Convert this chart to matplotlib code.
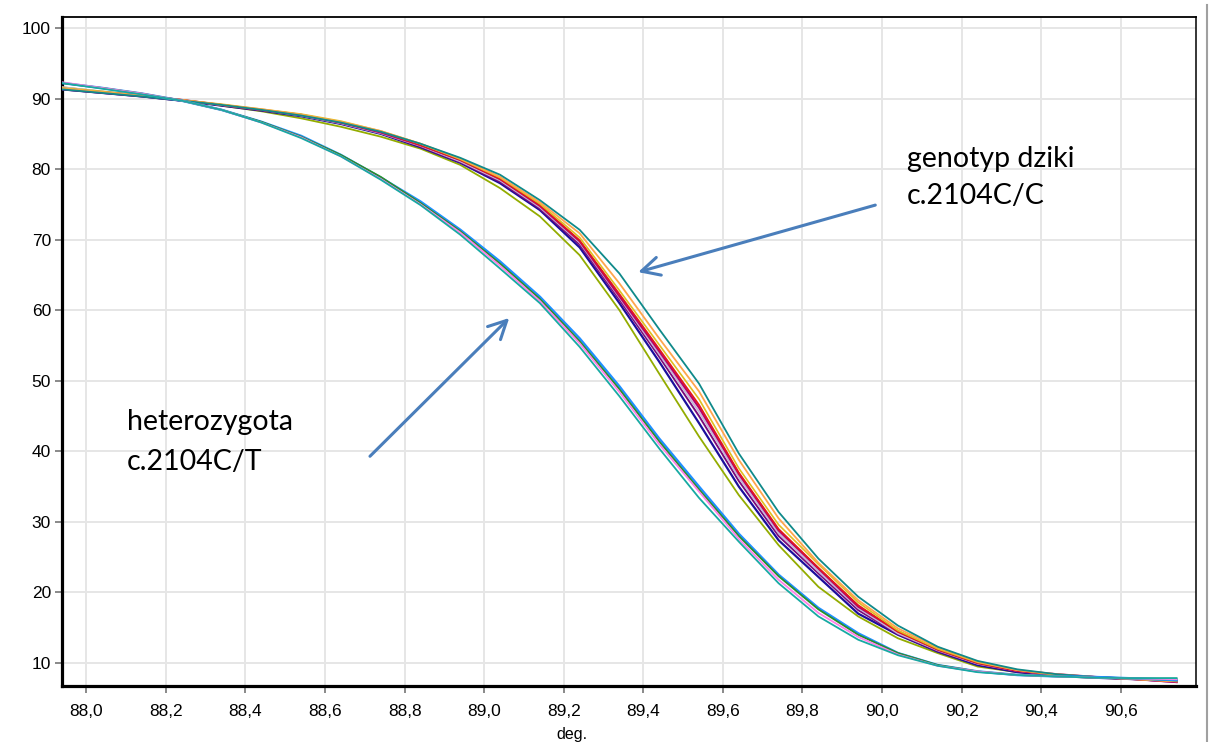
import matplotlib
matplotlib.use('Agg')
import matplotlib.pyplot as plt
from matplotlib.lines import Line2D

# melting temperature grid (deg.) shared by every curve
TEMP = [87.94, 88.04, 88.14, 88.24, 88.34, 88.44, 88.54, 88.64, 88.74, 88.84,
        88.94, 89.04, 89.14, 89.24, 89.34, 89.44, 89.54, 89.64, 89.74, 89.84,
        89.94, 90.04, 90.14, 90.24, 90.34, 90.44, 90.54, 90.64, 90.74]

# wild type c.2104C/C
WT_TEAL = [91.3, 90.8, 90.3, 89.7, 89.1, 88.4, 87.6, 86.6, 85.3, 83.6, 81.6, 79.2, 75.6, 71.4, 65.2,
           57.3, 49.6, 39.7, 31.4, 24.8, 19.4, 15.3, 12.3, 10.3, 9.1, 8.4, 8.0, 7.8, 7.5]
WT_ORANGE = [91.4, 90.9, 90.4, 89.8, 89.1, 88.5, 87.7, 86.7, 85.4, 83.6, 81.5, 78.9, 75.3, 70.9, 63.8,
             56.0, 48.5, 38.8, 30.5, 24.2, 18.9, 14.9, 12.2, 10.2, 9.0, 8.4, 8.0, 7.7, 7.4]
WT_GOLD = [91.5, 91.0, 90.4, 89.8, 89.2, 88.5, 87.8, 86.8, 85.4, 83.6, 81.4, 78.8, 75.1, 70.3, 62.8,
           55.1, 47.4, 37.6, 29.6, 24.0, 18.6, 14.6, 12.0, 10.1, 9.0, 8.3, 8.0, 7.7, 7.4]
WT_RED = [91.4, 90.9, 90.4, 89.8, 89.1, 88.4, 87.7, 86.6, 85.3, 83.4, 81.3, 78.6, 74.9, 69.9, 62.3,
          54.5, 46.6, 37.0, 29.0, 23.5, 18.2, 14.4, 11.9, 10.0, 8.9, 8.3, 8.0, 7.7, 7.4]
WT_MAGENTA = [91.4, 90.9, 90.4, 89.8, 89.1, 88.4, 87.7, 86.6, 85.2, 83.4, 81.3, 78.6, 74.8, 69.8, 62.0,
              54.2, 46.2, 36.8, 28.8, 23.4, 18.0, 14.5, 11.9, 10.0, 8.9, 8.4, 8.0, 7.7, 7.3]
WT_LAVENDER = [91.6, 91.0, 90.4, 89.8, 89.1, 88.4, 87.6, 86.5, 85.1, 83.3, 81.1, 78.4, 74.6, 69.6, 61.8,
               53.8, 45.6, 36.3, 28.4, 23.0, 17.8, 14.2, 11.8, 9.9, 8.9, 8.3, 8.0, 7.7, 7.3]
WT_PURPLE = [91.3, 90.8, 90.3, 89.7, 89.1, 88.4, 87.6, 86.5, 85.1, 83.2, 81.0, 78.2, 74.4, 69.3, 61.5,
             53.4, 45.0, 35.8, 28.0, 22.7, 17.5, 14.1, 11.7, 9.9, 8.8, 8.3, 8.0, 7.7, 7.3]
WT_NAVY = [91.3, 90.8, 90.3, 89.7, 89.0, 88.3, 87.5, 86.4, 85.0, 83.1, 80.9, 78.0, 74.2, 68.9, 61.0,
           52.7, 44.0, 35.0, 27.4, 22.2, 17.0, 14.0, 11.6, 9.7, 8.7, 8.2, 7.9, 7.7, 7.4]
WT_OLIVE = [91.6, 91.0, 90.5, 89.8, 89.0, 88.2, 87.2, 86.0, 84.6, 82.9, 80.6, 77.3, 73.3, 67.8, 60.0,
            51.0, 42.1, 33.8, 26.7, 20.8, 16.6, 13.5, 11.4, 9.5, 8.7, 8.2, 7.9, 7.7, 7.4]

# heterozygote c.2104C/T
HET_BLUE = [92.2, 91.5, 90.7, 89.7, 88.4, 86.7, 84.7, 82.0, 78.8, 75.4, 71.4, 66.9, 61.9, 56.0, 49.2,
            41.8, 35.0, 28.3, 22.5, 17.8, 14.2, 11.4, 9.7, 8.8, 8.3, 8.1, 8.0, 7.8, 7.6]
HET_GREEN = [92.2, 91.5, 90.7, 89.7, 88.4, 86.7, 84.6, 82.0, 78.9, 75.2, 71.2, 66.6, 61.6, 55.6, 48.8,
             41.4, 34.6, 28.0, 22.3, 17.6, 14.0, 11.4, 9.7, 8.8, 8.3, 8.1, 7.9, 7.8, 7.8]
HET_PINK = [92.3, 91.5, 90.7, 89.7, 88.4, 86.6, 84.5, 81.8, 78.6, 75.0, 71.0, 66.3, 61.3, 55.3, 48.4,
            41.0, 34.3, 27.6, 21.8, 17.1, 13.7, 11.2, 9.6, 8.8, 8.3, 8.1, 7.9, 7.8, 7.7]
HET_TEAL = [92.2, 91.4, 90.6, 89.7, 88.4, 86.6, 84.4, 81.8, 78.5, 74.9, 70.7, 65.9, 61.0, 54.8, 47.8,
            40.4, 33.4, 27.2, 21.3, 16.6, 13.3, 11.1, 9.6, 8.7, 8.3, 8.1, 7.9, 7.85, 7.85]

X_TICKS = [88.0, 88.2, 88.4, 88.6, 88.8, 89.0, 89.2, 89.4, 89.6, 89.8, 90.0, 90.2, 90.4, 90.6]
X_LABELS = ['88,0', '88,2', '88,4', '88,6', '88,8', '89,0', '89,2', '89,4', '89,6', '89,8',
            '90,0', '90,2', '90,4', '90,6']
Y_TICKS = [10, 20, 30, 40, 50, 60, 70, 80, 90, 100]

C_ARROW = '#4a7ebb'

plt.rcParams.update({
    'font.family': ['Liberation Sans', 'DejaVu Sans'],
})

fig = plt.figure(figsize=(12.09, 7.42), dpi=100, facecolor='white')
ax = fig.add_axes([62 / 1209, 56 / 742, 1134 / 1209, 669 / 742])

series = [
    (WT_OLIVE, '#93ac00', 1.3),
    (WT_NAVY, '#1c0f9c', 1.6),
    (WT_PURPLE, '#7a0a7a', 1.4),
    (WT_LAVENDER, '#c3b6d8', 1.4),
    (WT_MAGENTA, '#b8006a', 1.6),
    (WT_RED, '#e21a1a', 1.2),
    (WT_GOLD, '#e0be20', 1.2),
    (WT_ORANGE, '#ffa64d', 1.3),
    (WT_TEAL, '#0f8a8a', 1.3),
    (HET_BLUE, '#1f8fff', 1.8),
    (HET_GREEN, '#2a8f2a', 1.3),
    (HET_PINK, '#ff7fe8', 1.3),
    (HET_TEAL, '#17aaa3', 1.3),
]
for ys, color, lw in series:
    ax.plot(TEMP, ys, color=color, lw=lw, zorder=3)

ax.set_xlim(87.939, 90.789)
ax.set_ylim(6.74, 101.56)
ax.set_xticks(X_TICKS)
ax.set_xticklabels(X_LABELS)
ax.set_yticks(Y_TICKS)
ax.set_yticklabels([str(v) for v in Y_TICKS])
ax.grid(True, color='#e6e6e6', lw=1.4, zorder=0)
ax.set_axisbelow(True)
ax.tick_params(axis='both', direction='out', length=5, width=1.3, color='#808080',
               labelsize=12.5, labelcolor='black')
ax.tick_params(axis='x', pad=8)
ax.tick_params(axis='y', pad=3)

ax.spines['left'].set_linewidth(2.3)
ax.spines['bottom'].set_linewidth(2.3)
ax.spines['top'].set_linewidth(1.3)
ax.spines['right'].set_linewidth(1.1)
for s in ax.spines.values():
    s.set_color('black')

# arrows pointing at the two curve families
ax.annotate('', xy=(89.387, 65.4), xytext=(89.983, 74.9),
            arrowprops=dict(arrowstyle='->,head_length=0.65,head_width=0.33',
                            color=C_ARROW, lw=2.2, mutation_scale=20,
                            shrinkA=0, shrinkB=0), zorder=5)
ax.annotate('', xy=(89.063, 58.9), xytext=(88.713, 39.3),
            arrowprops=dict(arrowstyle='->,head_length=0.65,head_width=0.33',
                            color=C_ARROW, lw=2.2, mutation_scale=20,
                            shrinkA=0, shrinkB=0), zorder=5)

txt = dict(fontsize=20.5, family=['Lato', 'DejaVu Sans'], color='black', va='baseline', ha='left')
fig.text(907 / 1209, 1 - 167 / 742, 'genotyp dziki', **txt)
fig.text(907 / 1209, 1 - 204 / 742, 'c.2104C/C', **txt)
fig.text(127 / 1209, 1 - 430 / 742, 'heterozygota', **txt)
fig.text(127 / 1209, 1 - 470 / 742, 'c.2104C/T', **txt)

fig.text(572 / 1209, 1 - 734 / 742, 'deg.', fontsize=11.5, ha='center', va='center')

# thin grey frame line at the right edge of the screenshot
fig.add_artist(Line2D([1207 / 1209, 1207 / 1209], [0, 1 - 5 / 742],
                      transform=fig.transFigure, color='#a0a0a0', lw=1.5))

fig.savefig('out.png', dpi=100, facecolor='white')
